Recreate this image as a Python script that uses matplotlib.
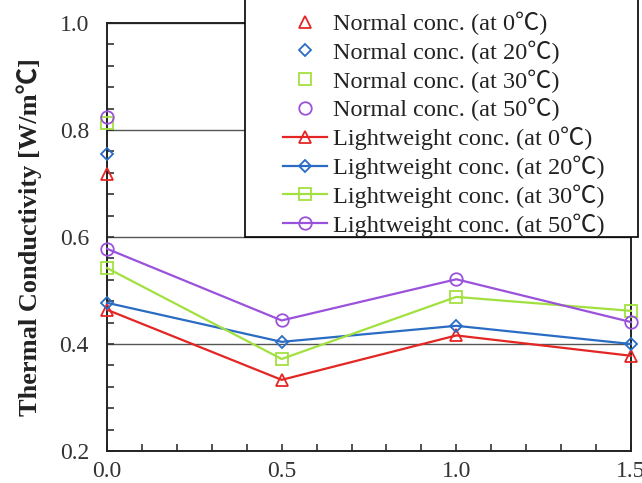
import matplotlib
matplotlib.use("Agg")
import matplotlib.pyplot as plt
from matplotlib.ticker import MultipleLocator
from matplotlib.patches import Rectangle

# fonts: serif look with a fallback for the degree-celsius sign
fam = ['Liberation Serif', 'Noto Sans CJK JP', 'DejaVu Serif']
plt.rcParams['font.family'] = fam

# data
x_vals = [0.0, 0.5, 1.0, 1.5]
temps = ['0', '20', '30', '50']
normal = [0.718, 0.755, 0.813, 0.824]          # normal concrete, only at x=0
light = {
    '0':  [0.464, 0.333, 0.416, 0.378],
    '20': [0.477, 0.404, 0.434, 0.400],
    '30': [0.542, 0.372, 0.488, 0.462],
    '50': [0.578, 0.444, 0.521, 0.441],
}
colors = ['#e32624', '#2a6cc4', '#a2e040', '#9a52dc']
markers = ['^', 'D', 's', 'o']
msizes = [8, 6, 8, 9]

W, H = 642, 483
fig = plt.figure(figsize=(W / 100, H / 100), dpi=100)
ax = fig.add_axes([107 / W, 1 - 451 / H, (631 - 107) / W, (451 - 23) / H])

handles = []
for i, t in enumerate(temps):
    h, = ax.plot([x_vals[0]], [normal[i]], linestyle='none', marker=markers[i],
                 ms=msizes[i], mfc='none', mec=colors[i], mew=1.3,
                 label='Normal conc. (at %s\u2103)' % t, clip_on=False, zorder=4)
    handles.append(h)
for i, t in enumerate(temps):
    h, = ax.plot(x_vals, light[t], color=colors[i], lw=1.6, marker=markers[i],
                 ms=msizes[i], mfc='none', mec=colors[i], mew=1.3,
                 label='Lightweight conc. (at %s\u2103)' % t, clip_on=False, zorder=4)
    handles.append(h)

ax.set_xlim(0, 1.5)
ax.set_ylim(0.2, 1.0)
ax.xaxis.set_major_locator(MultipleLocator(0.5))
ax.xaxis.set_minor_locator(MultipleLocator(0.1))
ax.yaxis.set_major_locator(MultipleLocator(0.2))
ax.yaxis.set_minor_locator(MultipleLocator(0.04))
ax.xaxis.set_major_formatter(plt.FormatStrFormatter('%.1f'))
ax.yaxis.set_major_formatter(plt.FormatStrFormatter('%.1f'))
ax.tick_params(which='both', direction='in', length=5, width=1.2, color='#333333',
               top=False, right=False)
ax.tick_params(axis='y', labelsize=17, pad=13, labelcolor='#333333')
ax.tick_params(axis='x', labelsize=17, pad=7, labelcolor='#333333')
ax.grid(axis='y', which='major', color='#555555', lw=1.0)
for s in ax.spines.values():
    s.set_linewidth(1.4)
    s.set_color('#222222')

fig.text(0.045, 0.51, 'Thermal Conductivity [W/m\u2103]', rotation=90,
         ha='center', va='center', fontsize=19, fontweight='bold', color='#222222')

# legend box: it sticks out above the axes and past the right spine
box = Rectangle((245 / W, 1 - 237 / H), (638 - 245) / W, 237 / H + 0.02,
                transform=fig.transFigure, facecolor='white', edgecolor='black',
                lw=1.2, zorder=5)
fig.patches.append(box)

leg = fig.legend(handles=handles, loc='lower left', bbox_to_anchor=(276 / W, 1 - 244 / H),
                 bbox_transform=fig.transFigure, fontsize=17.5, frameon=False,
                 handlelength=1.8, handletextpad=0.25, labelspacing=0.22,
                 borderpad=0.3, borderaxespad=0)
leg.set_zorder(6)
for txt in leg.get_texts():
    txt.set_color('#222222')

fig.savefig('out.png', dpi=100)
